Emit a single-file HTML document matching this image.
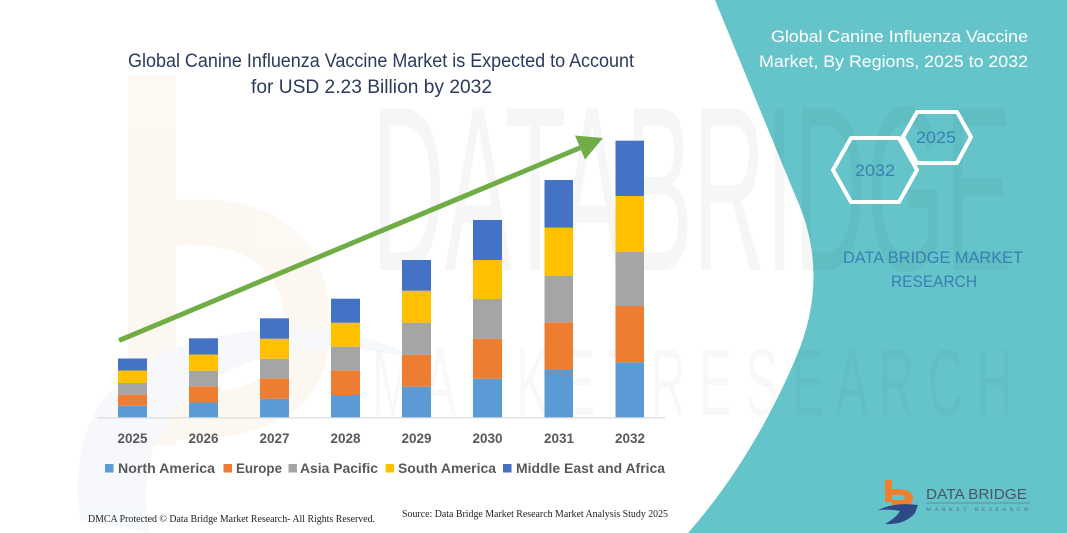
<!DOCTYPE html>
<html><head><meta charset="utf-8"><style>
html,body{margin:0;padding:0;background:#fff;}
svg{display:block;}
</style></head><body>
<svg width="1067" height="533" viewBox="0 0 1067 533" xmlns="http://www.w3.org/2000/svg">
<rect width="1067" height="533" fill="#ffffff"/>
<!-- faint watermark -->
<g opacity="0.5">
<rect x="128" y="75" width="48" height="370" fill="#fdf1e6"/>
<path d="M176,200 Q330,190 330,330 Q330,440 176,440 L176,395 Q285,395 285,330 Q285,240 176,245 Z" fill="#fdf1e6"/>
<path d="M80,520 Q60,380 200,340 Q330,310 420,360 Q300,330 210,380 Q130,430 150,533 Z" fill="#eef3f8"/>
</g>

<!-- teal panel -->
<path d="M715,0 L795,195 Q832,275 795,360 Q752,460 688,533 L1067,533 L1067,0 Z" fill="#64c4c9"/>

<text x="372" y="270" font-family="Liberation Sans, sans-serif" font-size="235" fill="#000" opacity="0.03" textLength="640" lengthAdjust="spacingAndGlyphs">DATABRIDGE</text>
<text x="372" y="415" font-family="Liberation Sans, sans-serif" font-size="95" fill="#000" opacity="0.025" textLength="640" lengthAdjust="spacingAndGlyphs">M A R K E T  R E S E A R C H</text>

<!-- title -->
<text x="128" y="67" font-family="Liberation Sans, sans-serif" font-size="19" fill="#2b3a5e" textLength="506" lengthAdjust="spacingAndGlyphs">Global Canine Influenza Vaccine Market is Expected to Account</text>
<text x="251" y="93" font-family="Liberation Sans, sans-serif" font-size="19" fill="#2b3a5e" textLength="241" lengthAdjust="spacingAndGlyphs">for USD 2.23 Billion by 2032</text>

<!-- axis -->
<line x1="97" y1="417.8" x2="665" y2="417.8" stroke="#d9d9d9" stroke-width="1.2"/>

<!-- bars: NA, EU, AP, SA, MEA -->
<g>
<rect x="118" y="405.7" width="29" height="11.6" fill="#5b9bd5"/>
<rect x="118" y="394.7" width="29" height="11" fill="#ed7d31"/>
<rect x="118" y="383" width="29" height="11.7" fill="#a5a5a5"/>
<rect x="118" y="370.5" width="29" height="12.5" fill="#ffc000"/>
<rect x="118" y="358.5" width="29" height="12" fill="#4472c4"/>
<rect x="189" y="402.5" width="29" height="14.8" fill="#5b9bd5"/>
<rect x="189" y="386.2" width="29" height="16.3" fill="#ed7d31"/>
<rect x="189" y="370.8" width="29" height="15.4" fill="#a5a5a5"/>
<rect x="189" y="354.5" width="29" height="16.3" fill="#ffc000"/>
<rect x="189" y="338.3" width="29" height="16.2" fill="#4472c4"/>
<rect x="260" y="398.7" width="29" height="18.6" fill="#5b9bd5"/>
<rect x="260" y="378.3" width="29" height="20.4" fill="#ed7d31"/>
<rect x="260" y="358.7" width="29" height="19.6" fill="#a5a5a5"/>
<rect x="260" y="338.7" width="29" height="20" fill="#ffc000"/>
<rect x="260" y="318.3" width="29" height="20.4" fill="#4472c4"/>
<rect x="331" y="395" width="29" height="22.3" fill="#5b9bd5"/>
<rect x="331" y="370.3" width="29" height="24.7" fill="#ed7d31"/>
<rect x="331" y="346.7" width="29" height="23.6" fill="#a5a5a5"/>
<rect x="331" y="322.7" width="29" height="24" fill="#ffc000"/>
<rect x="331" y="298.7" width="29" height="24" fill="#4472c4"/>
<rect x="402" y="386.7" width="29" height="30.6" fill="#5b9bd5"/>
<rect x="402" y="354.7" width="29" height="32" fill="#ed7d31"/>
<rect x="402" y="322.7" width="29" height="32" fill="#a5a5a5"/>
<rect x="402" y="290.7" width="29" height="32" fill="#ffc000"/>
<rect x="402" y="260" width="29" height="30.7" fill="#4472c4"/>
<rect x="473" y="378.7" width="29" height="38.6" fill="#5b9bd5"/>
<rect x="473" y="338.7" width="29" height="40" fill="#ed7d31"/>
<rect x="473" y="299" width="29" height="39.7" fill="#a5a5a5"/>
<rect x="473" y="260" width="29" height="39" fill="#ffc000"/>
<rect x="473" y="220" width="29" height="40" fill="#4472c4"/>
<rect x="544.5" y="370" width="28.5" height="47.3" fill="#5b9bd5"/>
<rect x="544.5" y="322.3" width="28.5" height="47.7" fill="#ed7d31"/>
<rect x="544.5" y="275.7" width="28.5" height="46.6" fill="#a5a5a5"/>
<rect x="544.5" y="227.7" width="28.5" height="48" fill="#ffc000"/>
<rect x="544.5" y="180" width="28.5" height="47.7" fill="#4472c4"/>
<rect x="615.5" y="362.3" width="28.5" height="55" fill="#5b9bd5"/>
<rect x="615.5" y="306" width="28.5" height="56.3" fill="#ed7d31"/>
<rect x="615.5" y="252" width="28.5" height="54" fill="#a5a5a5"/>
<rect x="615.5" y="196" width="28.5" height="56" fill="#ffc000"/>
<rect x="615.5" y="140.7" width="28.5" height="55.3" fill="#4472c4"/>
</g>

<!-- arrow -->
<line x1="119" y1="340.5" x2="582" y2="147" stroke="#70ad47" stroke-width="5"/>
<polygon points="603,138 575,135.5 585,159.5" fill="#70ad47"/>

<!-- year labels -->
<g font-family="Liberation Sans, sans-serif" font-size="13.5" font-weight="bold" fill="#595959" text-anchor="middle">
<text x="132.5" y="443">2025</text>
<text x="203.5" y="443">2026</text>
<text x="274.5" y="443">2027</text>
<text x="345.5" y="443">2028</text>
<text x="416.5" y="443">2029</text>
<text x="487.5" y="443">2030</text>
<text x="559" y="443">2031</text>
<text x="630" y="443">2032</text>
</g>

<!-- legend -->
<g font-family="Liberation Sans, sans-serif" font-size="14" font-weight="bold" fill="#595959">
<rect x="105" y="464" width="8.5" height="8.5" fill="#5b9bd5"/>
<text x="118" y="473" textLength="97" lengthAdjust="spacingAndGlyphs">North America</text>
<rect x="223.5" y="464" width="8.5" height="8.5" fill="#ed7d31"/>
<text x="236" y="473" textLength="46" lengthAdjust="spacingAndGlyphs">Europe</text>
<rect x="288.5" y="464" width="8.5" height="8.5" fill="#a5a5a5"/>
<text x="300" y="473" textLength="78" lengthAdjust="spacingAndGlyphs">Asia Pacific</text>
<rect x="385.5" y="464" width="8.5" height="8.5" fill="#ffc000"/>
<text x="398" y="473" textLength="98" lengthAdjust="spacingAndGlyphs">South America</text>
<rect x="503" y="464" width="8.5" height="8.5" fill="#4472c4"/>
<text x="516" y="473" textLength="149" lengthAdjust="spacingAndGlyphs">Middle East and Africa</text>
</g>

<!-- footer -->
<text x="88" y="522" font-family="Liberation Serif, serif" font-size="10" fill="#222" textLength="287" lengthAdjust="spacingAndGlyphs">DMCA Protected © Data Bridge Market Research-  All Rights Reserved.</text>
<text x="402" y="517" font-family="Liberation Serif, serif" font-size="10" fill="#222" textLength="266" lengthAdjust="spacingAndGlyphs">Source: Data Bridge Market Research  Market Analysis Study 2025</text>

<!-- right panel text -->
<g font-family="Liberation Sans, sans-serif" font-size="17" fill="#ffffff">
<text x="771" y="42" textLength="257" lengthAdjust="spacingAndGlyphs">Global Canine Influenza Vaccine</text>
<text x="759" y="67" textLength="269" lengthAdjust="spacingAndGlyphs">Market, By Regions, 2025 to 2032</text>
</g>

<!-- hexagons -->
<polygon points="903,137 917,112 957,112 971,137 957,163 917,163" fill="none" stroke="#ffffff" stroke-width="4" stroke-linejoin="round"/>
<polygon points="833,170 851,138 899,138 917,170 899,202 851,202" fill="none" stroke="#ffffff" stroke-width="4" stroke-linejoin="round"/>
<g font-family="Liberation Sans, sans-serif" font-size="17" fill="#3b7fb4" text-anchor="middle">
<text x="936" y="143" textLength="40" lengthAdjust="spacingAndGlyphs">2025</text>
<text x="875" y="176" textLength="40" lengthAdjust="spacingAndGlyphs">2032</text>
</g>

<g font-family="Liberation Sans, sans-serif" font-size="17" fill="#3b7fb4">
<text x="843" y="263" textLength="180" lengthAdjust="spacingAndGlyphs">DATA BRIDGE MARKET</text>
<text x="891" y="287" textLength="86" lengthAdjust="spacingAndGlyphs">RESEARCH</text>
</g>

<!-- logo -->
<g>
<rect x="885" y="480" width="7" height="22" fill="#f07f2e"/>
<path d="M885,490 Q912,486 913,498 Q913,507 900,507 L892,507 L892,500 L901,500 Q905,500 905,497 Q905,494 892,495 Z" fill="#f07f2e"/>
<path d="M878,510 Q895,502 918,505 L915,513 Q905,525 885,524 Q896,518 900,511 Q890,509 878,510 Z" fill="#2d4a86"/>
<text x="926" y="499" font-family="Liberation Sans, sans-serif" font-size="15" fill="#4a5663" textLength="101" lengthAdjust="spacingAndGlyphs">DATA BRIDGE</text>
<line x1="926" y1="503" x2="1030" y2="503" stroke="#6a7a88" stroke-width="0.8"/>
<text x="926" y="511" font-family="Liberation Serif, serif" font-size="5.5" fill="#5a6a78" textLength="102" lengthAdjust="spacing">MARKET RESEARCH</text>
</g>
</svg>
</body></html>
